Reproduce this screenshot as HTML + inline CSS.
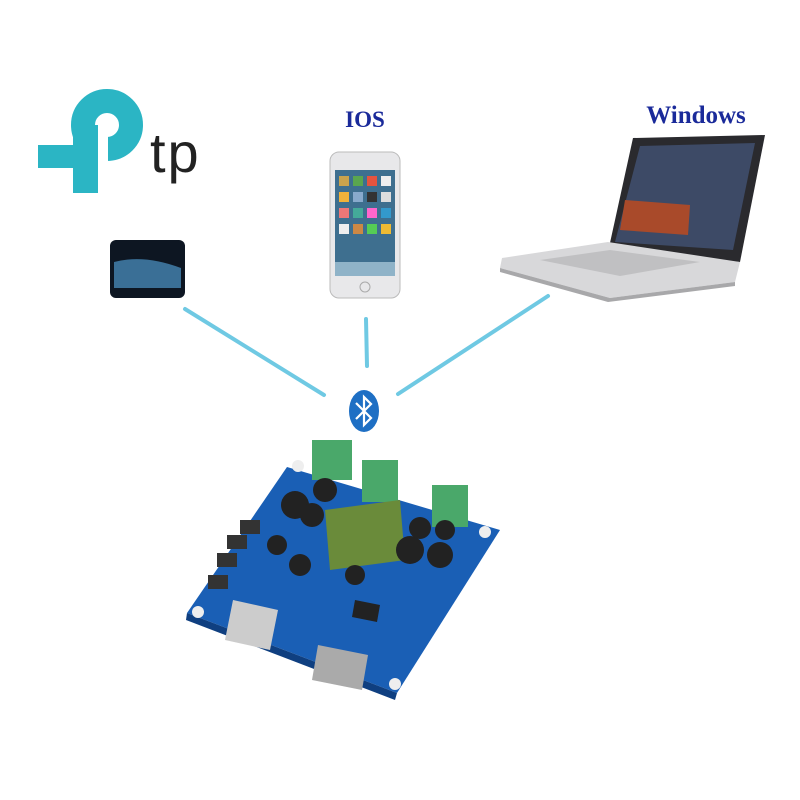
<!DOCTYPE html>
<html><head><style>body{margin:0;background:#fff}svg{display:block}</style></head><body>
<svg width="800" height="800" viewBox="0 0 800 800" xmlns="http://www.w3.org/2000/svg">
<rect width="800" height="800" fill="#fff"/>
<!-- TP-Link logo -->
<circle cx="107" cy="125" r="24" fill="none" stroke="#2bb5c4" stroke-width="24"/>
<rect x="96" y="132" width="12" height="40" fill="#fff"/>
<rect x="73" y="125" width="25" height="68" fill="#2bb5c4"/>
<rect x="38" y="145" width="60" height="23" fill="#2bb5c4"/>
<text x="150" y="172" font-family="Liberation Sans, sans-serif" font-size="56" fill="#222" letter-spacing="2">tp</text>
<rect x="214" y="120" width="15" height="70" fill="#fff"/>
<!-- Samsung phone -->
<rect x="110" y="240" width="75" height="58" rx="6" fill="#0d1622"/>
<path d="M114 262 q30 -8 67 6 v20 h-67 z" fill="#3a6f96"/>
<!-- iPhone -->
<rect x="330" y="152" width="70" height="146" rx="9" fill="#e8e8ea" stroke="#bbb"/>
<rect x="335" y="170" width="60" height="106" fill="#3e6f8f"/>
<g><rect x="339" y="176" width="10" height="10" fill="#c9a34d"/><rect x="353" y="176" width="10" height="10" fill="#5aa64f"/><rect x="367" y="176" width="10" height="10" fill="#e5543f"/><rect x="381" y="176" width="10" height="10" fill="#eee"/>
<rect x="339" y="192" width="10" height="10" fill="#f0b23a"/><rect x="353" y="192" width="10" height="10" fill="#8ac"/><rect x="367" y="192" width="10" height="10" fill="#333"/><rect x="381" y="192" width="10" height="10" fill="#ddd"/>
<rect x="339" y="208" width="10" height="10" fill="#e77"/><rect x="353" y="208" width="10" height="10" fill="#4a9"/><rect x="367" y="208" width="10" height="10" fill="#f6c"/><rect x="381" y="208" width="10" height="10" fill="#39c"/>
<rect x="339" y="224" width="10" height="10" fill="#eee"/><rect x="353" y="224" width="10" height="10" fill="#c84"/><rect x="367" y="224" width="10" height="10" fill="#5c5"/><rect x="381" y="224" width="10" height="10" fill="#eb3"/>
<rect x="335" y="262" width="60" height="14" fill="#8fb3c8"/></g>
<circle cx="365" cy="287" r="5" fill="none" stroke="#aaa"/>
<text x="365" y="127" text-anchor="middle" font-family="Liberation Serif, serif" font-weight="bold" font-size="23" fill="#1a2a9a">IOS</text>
<text x="696" y="123" text-anchor="middle" font-family="Liberation Serif, serif" font-weight="bold" font-size="25" fill="#1a2a9a">Windows</text>
<!-- Laptop -->
<polygon points="633,138 765,135 740,262 608,252" fill="#2a2a2e"/>
<polygon points="640,146 755,143 733,250 615,242" fill="#3d4a66"/>
<polygon points="625,200 690,205 688,235 620,230" fill="#a94a2a"/>
<polygon points="502,258 608,242 740,262 735,282 610,298 500,268" fill="#d8d8da"/>
<polygon points="540,260 610,250 700,262 620,276" fill="#c0c0c2"/>
<polygon points="500,268 610,298 735,282 735,286 608,302 500,272" fill="#a8a8aa"/>
<!-- lines -->
<g stroke="#6fc9e3" stroke-width="4" stroke-linecap="round">
<line x1="185" y1="309" x2="324" y2="395"/>
<line x1="366" y1="319" x2="367" y2="366"/>
<line x1="548" y1="296" x2="398" y2="394"/>
</g>
<!-- bluetooth -->
<ellipse cx="364" cy="411" rx="15" ry="21" fill="#1e6fc4"/>
<path d="M356 403 L371 418 L364 425 V397 L371 404 L356 419" fill="none" stroke="#fff" stroke-width="2.2"/>
<!-- board -->
<polygon points="287,467 500,530 397,693 187,613" fill="#1a5fb5"/>
<polygon points="187,613 397,693 395,700 186,620" fill="#0f3f80"/>
<g fill="#eee"><circle cx="298" cy="466" r="6"/><circle cx="485" cy="532" r="6"/><circle cx="395" cy="684" r="6"/><circle cx="198" cy="612" r="6"/></g>
<g fill="#4aa86a"><rect x="312" y="440" width="40" height="40"/><rect x="362" y="460" width="36" height="42"/><rect x="432" y="485" width="36" height="42"/></g>
<polygon points="325,510 400,500 405,560 330,570" fill="#6a8b3a"/>
<g fill="#222"><circle cx="295" cy="505" r="14"/><circle cx="325" cy="490" r="12"/><circle cx="312" cy="515" r="12"/><circle cx="300" cy="565" r="11"/><circle cx="277" cy="545" r="10"/><circle cx="355" cy="575" r="10"/><circle cx="410" cy="550" r="14"/><circle cx="440" cy="555" r="13"/><circle cx="420" cy="528" r="11"/><circle cx="445" cy="530" r="10"/></g>
<polygon points="233,600 278,610 270,650 225,640" fill="#ccc"/>
<polygon points="318,645 368,655 362,690 312,680" fill="#aaa"/>
<polygon points="355,600 380,605 377,622 352,617" fill="#222"/>
<g fill="#333"><rect x="208" y="575" width="20" height="14"/><rect x="217" y="553" width="20" height="14"/><rect x="227" y="535" width="20" height="14"/><rect x="240" y="520" width="20" height="14"/></g>
</svg>
</body></html>
